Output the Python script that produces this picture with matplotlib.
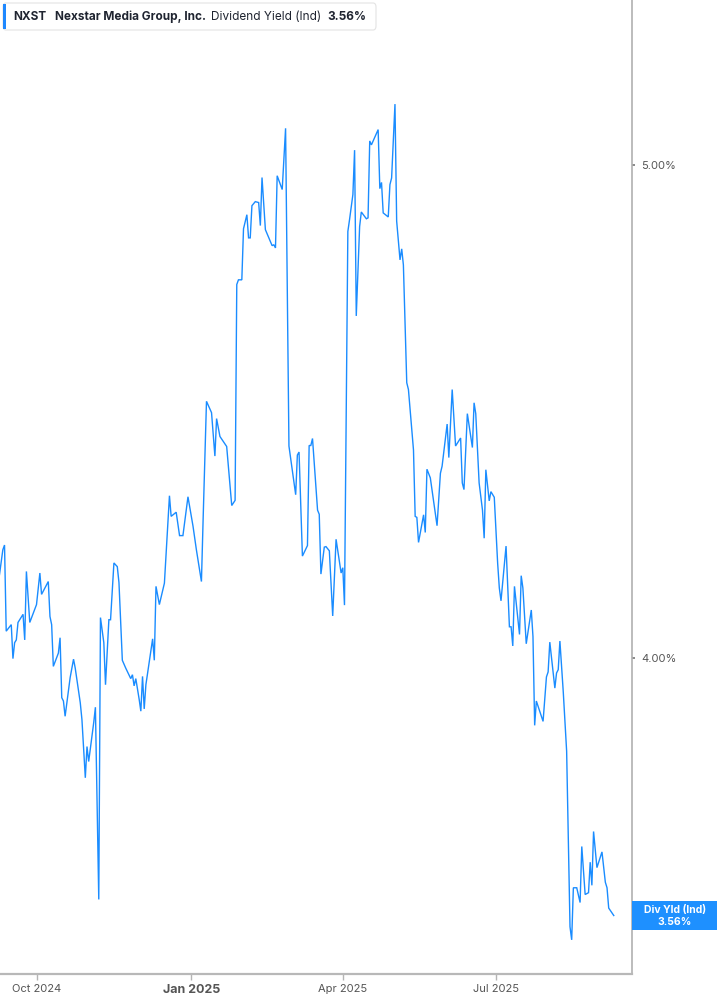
import matplotlib
matplotlib.use("Agg")
import matplotlib.pyplot as plt
import matplotlib.ticker as mticker
from matplotlib.patches import FancyBboxPatch, Rectangle
import pandas as pd

plt.rcParams['font.family'] = ['Inter', 'DejaVu Sans']

dates = [
    "2024-09-09", "2024-09-11", "2024-09-12", "2024-09-13", "2024-09-16", "2024-09-17", "2024-09-18",
    "2024-09-19", "2024-09-20", "2024-09-23", "2024-09-24", "2024-09-25", "2024-09-27", "2024-10-01",
    "2024-10-03", "2024-10-04", "2024-10-08", "2024-10-09", "2024-10-10", "2024-10-11", "2024-10-14",
    "2024-10-15", "2024-10-16", "2024-10-17", "2024-10-18", "2024-10-21", "2024-10-23", "2024-10-24",
    "2024-10-27", "2024-10-28", "2024-10-30", "2024-10-31", "2024-11-01", "2024-11-04", "2024-11-05",
    "2024-11-07", "2024-11-08", "2024-11-10", "2024-11-11", "2024-11-13", "2024-11-14", "2024-11-16",
    "2024-11-18", "2024-11-19", "2024-11-21", "2024-11-23", "2024-11-26", "2024-11-27", "2024-11-28",
    "2024-11-29", "2024-12-01", "2024-12-02", "2024-12-03", "2024-12-04", "2024-12-05", "2024-12-07",
    "2024-12-09", "2024-12-10", "2024-12-11", "2024-12-13", "2024-12-16", "2024-12-19", "2024-12-20",
    "2024-12-23", "2024-12-25", "2024-12-27", "2024-12-30", "2025-01-02", "2025-01-04", "2025-01-07",
    "2025-01-08", "2025-01-10", "2025-01-13", "2025-01-15", "2025-01-16", "2025-01-18", "2025-01-22",
    "2025-01-25", "2025-01-27", "2025-01-28", "2025-01-29", "2025-01-31", "2025-02-01", "2025-02-03",
    "2025-02-04", "2025-02-05", "2025-02-06", "2025-02-08", "2025-02-10", "2025-02-11", "2025-02-12",
    "2025-02-14", "2025-02-18", "2025-02-19", "2025-02-20", "2025-02-21", "2025-02-24", "2025-02-26",
    "2025-02-28", "2025-03-04", "2025-03-05", "2025-03-06", "2025-03-08", "2025-03-11", "2025-03-12",
    "2025-03-13", "2025-03-14", "2025-03-17", "2025-03-18", "2025-03-19", "2025-03-21", "2025-03-22",
    "2025-03-24", "2025-03-26", "2025-03-28", "2025-03-31", "2025-04-01", "2025-04-02", "2025-04-04",
    "2025-04-05", "2025-04-07", "2025-04-08", "2025-04-09", "2025-04-11", "2025-04-12", "2025-04-15",
    "2025-04-16", "2025-04-17", "2025-04-18", "2025-04-22", "2025-04-23", "2025-04-24", "2025-04-25",
    "2025-04-28", "2025-04-29", "2025-04-30", "2025-05-02", "2025-05-03", "2025-05-05", "2025-05-06",
    "2025-05-07", "2025-05-09", "2025-05-10", "2025-05-13", "2025-05-14", "2025-05-15", "2025-05-16",
    "2025-05-19", "2025-05-20", "2025-05-21", "2025-05-23", "2025-05-27", "2025-05-29", "2025-05-30",
    "2025-06-02", "2025-06-03", "2025-06-05", "2025-06-07", "2025-06-10", "2025-06-11", "2025-06-12",
    "2025-06-14", "2025-06-17", "2025-06-18", "2025-06-19", "2025-06-21", "2025-06-23", "2025-06-24",
    "2025-06-25", "2025-06-27", "2025-06-28", "2025-06-30", "2025-07-02", "2025-07-03", "2025-07-04",
    "2025-07-07", "2025-07-09", "2025-07-10", "2025-07-11", "2025-07-12", "2025-07-15", "2025-07-16",
    "2025-07-17", "2025-07-19", "2025-07-22", "2025-07-23", "2025-07-24", "2025-07-25", "2025-07-29",
    "2025-07-31", "2025-08-01", "2025-08-02", "2025-08-05", "2025-08-06", "2025-08-07", "2025-08-08",
    "2025-08-10", "2025-08-12", "2025-08-14", "2025-08-15", "2025-08-16", "2025-08-18", "2025-08-20",
    "2025-08-21", "2025-08-23", "2025-08-25", "2025-08-26", "2025-08-27", "2025-08-28", "2025-08-30",
    "2025-09-02", "2025-09-04", "2025-09-05", "2025-09-06", "2025-09-09",
]

div_yield = [
    4.154, 4.201, 4.210, 4.049, 4.061, 3.999, 4.028,
    4.033, 4.065, 4.080, 4.033, 4.160, 4.065, 4.098,
    4.157, 4.117, 4.141, 4.076, 4.061, 3.985, 4.009,
    4.037, 3.929, 3.923, 3.896, 3.965, 3.998, 3.982,
    3.920, 3.890, 3.789, 3.843, 3.817, 3.885, 3.912,
    3.586, 4.074, 4.028, 3.952, 4.070, 4.070, 4.176,
    4.169, 4.139, 3.996, 3.982, 3.963, 3.970, 3.950,
    3.963, 3.926, 3.905, 3.967, 3.909, 3.952, 3.993,
    4.035, 3.996, 4.132, 4.098, 4.138, 4.305, 4.265,
    4.273, 4.228, 4.228, 4.303, 4.246, 4.201, 4.141,
    4.259, 4.493, 4.470, 4.383, 4.458, 4.422, 4.402,
    4.286, 4.296, 4.737, 4.747, 4.747, 4.858, 4.889,
    4.838, 4.838, 4.909, 4.918, 4.916, 4.865, 4.972,
    4.856, 4.821, 4.823, 4.816, 4.976, 4.945, 5.084,
    4.403, 4.307, 4.385, 4.391, 4.189, 4.209, 4.404,
    4.404, 4.418, 4.277, 4.269, 4.155, 4.206, 4.207,
    4.199, 4.077, 4.221, 4.157, 4.167, 4.097, 4.852,
    4.878, 4.934, 5.034, 4.670, 4.863, 4.895, 4.880,
    4.882, 5.055, 5.046, 5.081, 4.947, 4.961, 4.893,
    4.884, 4.956, 4.971, 5.140, 4.875, 4.790, 4.814,
    4.779, 4.531, 4.517, 4.395, 4.265, 4.263, 4.215,
    4.268, 4.234, 4.357, 4.340, 4.247, 4.349, 4.363,
    4.447, 4.380, 4.517, 4.403, 4.419, 4.330, 4.317,
    4.468, 4.400, 4.490, 4.468, 4.330, 4.277, 4.223,
    4.356, 4.295, 4.313, 4.302, 4.176, 4.129, 4.105,
    4.208, 4.057, 4.057, 4.022, 4.132, 4.043, 4.152,
    4.129, 4.026, 4.088, 4.039, 3.880, 3.923, 3.887,
    3.966, 3.975, 4.029, 3.946, 3.973, 3.979, 4.031,
    3.939, 3.835, 3.542, 3.521, 3.605, 3.605, 3.581,
    3.673, 3.594, 3.597, 3.647, 3.609, 3.698, 3.638,
    3.664, 3.614, 3.605, 3.572, 3.560,
]

tick_dates = ["2024-10-01", "2025-01-01", "2025-04-01", "2025-07-01"]
tick_labels = ["Oct 2024", "Jan 2025", "Apr 2025", "Jul 2025"]
y_ticks = [4.0, 5.0]
y_tick_labels = ["4.00%", "5.00%"]

ticker_sym = "NXST"
company = "Nexstar Media Group, Inc."
metric = "Dividend Yield (Ind)"
last_label = "3.56%"
badge_label = "Div Yld (Ind)"

W, H = 717, 1005
fig = plt.figure(figsize=(W / 100, H / 100), dpi=100)
ax = fig.add_axes([0, 31 / H, 632 / W, 1 - 31 / H])

x = pd.to_datetime(dates)
line_color = "#1a8cff"
ax.plot(x, div_yield, color=line_color, lw=1.0, solid_joinstyle="miter")

ax.set_yscale("log")
ax.set_ylim(3.467, 5.388)
ref = pd.Timestamp("2024-10-01")
ax.set_xlim(ref + pd.Timedelta(days=-21.69), ref + pd.Timedelta(days=353.84))

ax.yaxis.tick_right()
ax.yaxis.set_major_locator(mticker.FixedLocator(y_ticks))
ax.yaxis.set_minor_locator(mticker.NullLocator())
ax.set_yticklabels(y_tick_labels)
ax.tick_params(axis="y", which="major", direction="out", length=2.5, width=1.2,
               color="#777777", pad=4, labelsize=8, labelcolor="#555555")

ax.set_xticks(pd.to_datetime(tick_dates))
ax.set_xticklabels(tick_labels)
ax.tick_params(axis="x", which="major", direction="out", length=4, width=1,
               color="#b5b5b5", pad=3, labelsize=8, labelcolor="#555555")
ax.xaxis.set_minor_locator(mticker.NullLocator())
for lbl in ax.get_xticklabels():
    if lbl.get_text().startswith("Jan"):
        lbl.set_fontweight("bold")
        lbl.set_fontsize(9)

for s in ["left", "top"]:
    ax.spines[s].set_visible(False)
ax.spines["right"].set_color("#b0b0b0")
ax.spines["right"].set_linewidth(1.2)
ax.spines["bottom"].set_color("#b8b8b8")
ax.spines["bottom"].set_linewidth(1.6)
ax.set_facecolor("white")


def fx(px):
    return px / W


def fy(py):
    return 1 - py / H


# header box
hdr = FancyBboxPatch((fx(3), fy(30)), fx(376) - fx(3), fy(3) - fy(30),
                     boxstyle="round,pad=0,rounding_size=0.004",
                     transform=fig.transFigure, facecolor="white",
                     edgecolor="#e3e3e3", lw=0.8, zorder=5)
fig.patches.append(hdr)
bar = Rectangle((fx(3), fy(29)), fx(3), fy(4) - fy(29), transform=fig.transFigure,
                facecolor="#1e88ff", edgecolor="none", zorder=6)
fig.patches.append(bar)
ty = fy(16.5)
fig.text(fx(13), ty, ticker_sym, fontsize=8.5, fontweight="bold", color="#1f2430", va="center", zorder=7)
fig.text(fx(55), ty, company, fontsize=8.5, fontweight="bold", color="#1f2430", va="center", zorder=7)
fig.text(fx(211), ty, metric, fontsize=8.5, color="#1f2430", va="center", zorder=7)
fig.text(fx(327), ty, last_label, fontsize=8.5, fontweight="bold", color="#1f2430", va="center", zorder=7)

# last value badge
badge = Rectangle((fx(632), fy(930)), fx(717) - fx(632), fy(901) - fy(930),
                  transform=fig.transFigure, facecolor="#1e90ff", edgecolor="none", zorder=5)
fig.patches.append(badge)
fig.text(fx(675), fy(909.5), badge_label, fontsize=7.5, fontweight="bold", color="white",
         ha="center", va="center", zorder=6)
fig.text(fx(675), fy(921.5), last_label, fontsize=7.5, fontweight="bold", color="white",
         ha="center", va="center", zorder=6)

fig.savefig("out.png", dpi=100, facecolor="white")
